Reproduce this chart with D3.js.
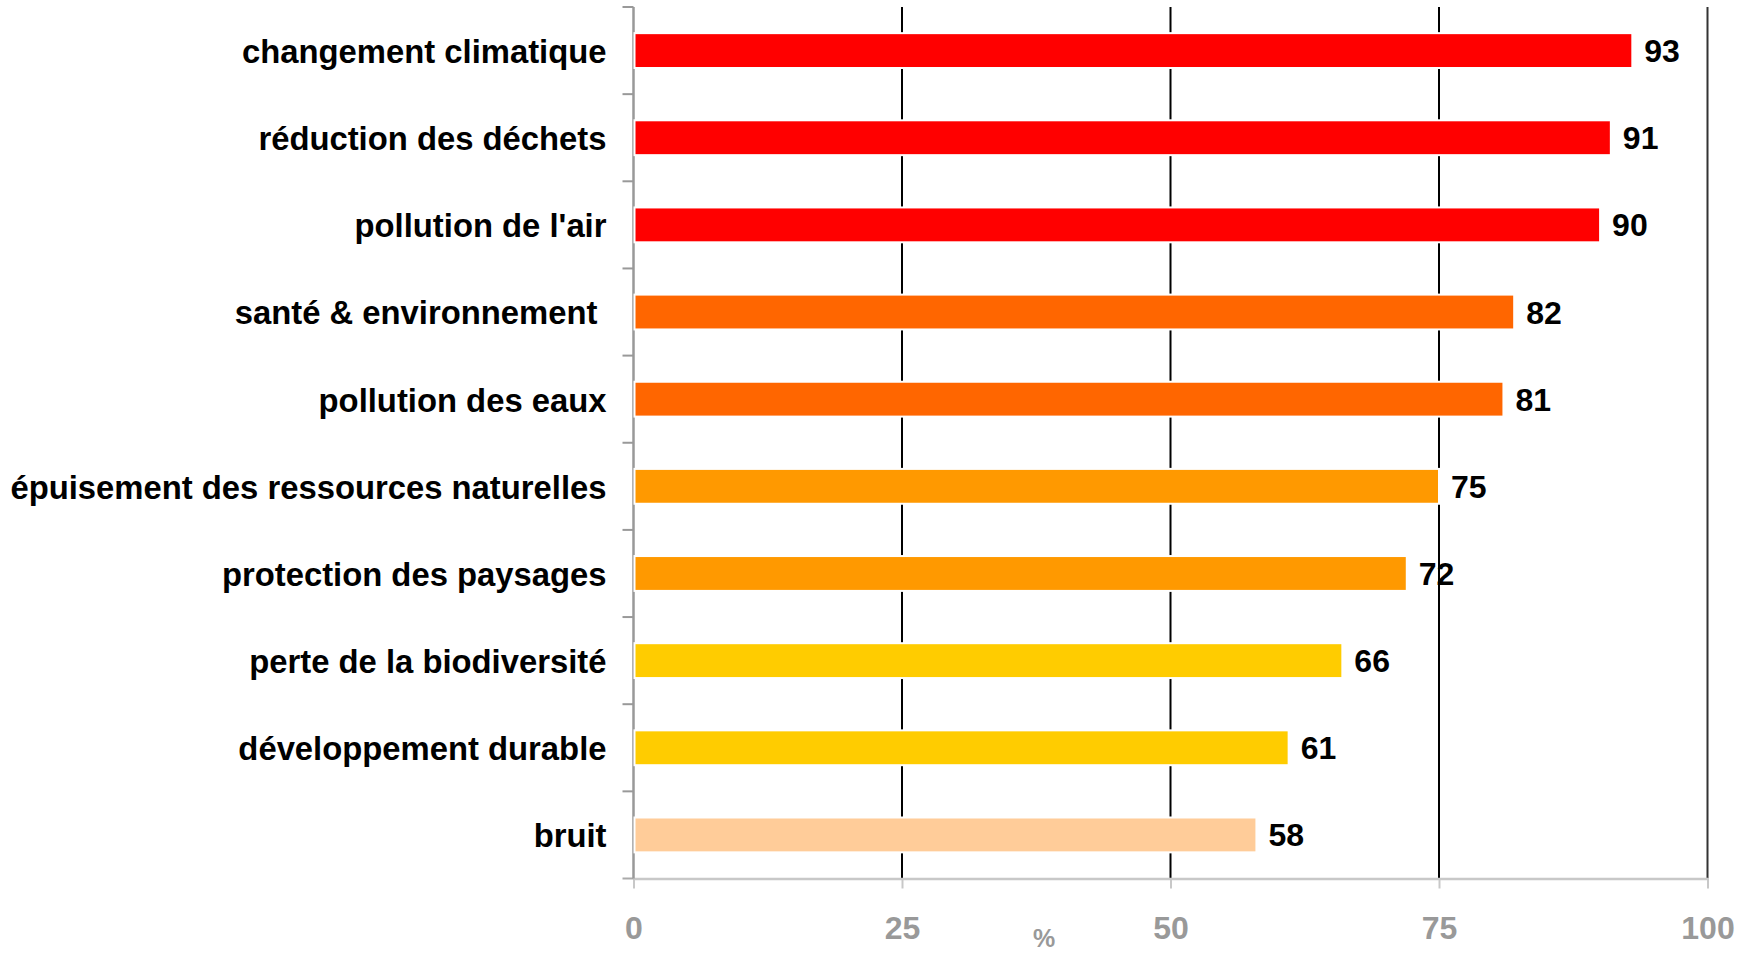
<!DOCTYPE html>
<html>
<head>
<meta charset="utf-8">
<script src="https://cdn.jsdelivr.net/npm/d3@7"></script>
<style>
  html, body { margin: 0; padding: 0; background: #fff; }
  svg { display: block; }
  text { font-family: "Liberation Sans", Arial, Helvetica, sans-serif; font-weight: bold; }
</style>
</head>
<body>
<svg id="chart" width="1742" height="953"></svg>
<script>
// ---- data ----
const categories = [
  "changement climatique",
  "réduction des déchets",
  "pollution de l'air",
  "santé & environnement ",
  "pollution des eaux",
  "épuisement des ressources naturelles",
  "protection des paysages",
  "perte de la biodiversité",
  "développement durable",
  "bruit"
];
const values = [93, 91, 90, 82, 81, 75, 72, 66, 61, 58];
const barColors = ["#ff0000", "#ff0000", "#ff0000", "#ff6600", "#ff6600",
                   "#ff9900", "#ff9900", "#ffcc00", "#ffcc00", "#ffcc99"];
const xTicks = [0, 25, 50, 75, 100];
const xTitle = "%";

// ---- layout ----
const svg = d3.select("#chart");
const plotLeft = 633.5, plotRight = 1707.5, plotTop = 7, plotBottom = 878.5;

const x = d3.scaleLinear().domain([0, 100]).range([plotLeft, plotRight]);
const y = d3.scaleBand().domain(categories).range([plotTop, plotBottom])
  .paddingInner(0.6).paddingOuter(0.3);

// gridlines
svg.append("g").selectAll("line")
  .data(xTicks.filter(d => d > 0))
  .join("line")
  .attr("x1", d => x(d)).attr("x2", d => x(d))
  .attr("y1", plotTop).attr("y2", plotBottom)
  .attr("stroke", d => d === 100 ? "#333" : "#000")
  .attr("stroke-width", 2);

// x axis
const xAxis = svg.append("g")
  .attr("transform", `translate(0,${plotBottom})`)
  .call(d3.axisBottom(x).tickValues(xTicks).tickSize(10).tickPadding(28).tickSizeOuter(0));
xAxis.select(".domain").attr("stroke", "#c8c8c8").attr("stroke-width", 2.5);
xAxis.selectAll(".tick line").attr("stroke", "#c8c8c8").attr("stroke-width", 2);
xAxis.selectAll(".tick text")
  .attr("fill", "#999").attr("font-size", 32).attr("font-weight", "bold")
  .attr("font-family", "Liberation Sans, Arial, sans-serif");

// extend x-axis line slightly left
svg.append("line")
  .attr("x1", plotLeft - 11).attr("x2", plotLeft)
  .attr("y1", plotBottom).attr("y2", plotBottom)
  .attr("stroke", "#aaa").attr("stroke-width", 2);

// y axis (band boundaries as ticks)
const yg = svg.append("g");
yg.append("line")
  .attr("x1", plotLeft).attr("x2", plotLeft)
  .attr("y1", plotTop).attr("y2", plotBottom)
  .attr("stroke", "#999").attr("stroke-width", 2.5);
const boundaries = categories.map(c => y(c) - y.step() * y.paddingInner() / 2);
yg.selectAll("line.tk")
  .data(boundaries)
  .join("line").attr("class", "tk")
  .attr("x1", plotLeft - 11).attr("x2", plotLeft)
  .attr("y1", d => d).attr("y2", d => d)
  .attr("stroke", "#999").attr("stroke-width", 2);

// bars
svg.append("g").selectAll("rect")
  .data(categories)
  .join("rect")
  .attr("x", x(0) + 1)
  .attr("y", d => y(d))
  .attr("width", (d, i) => x(values[i]) - x(0) - 1)
  .attr("height", y.bandwidth())
  .attr("fill", (d, i) => barColors[i])
  .attr("stroke", "#fff")
  .attr("stroke-width", 2);

// category labels
svg.append("g").selectAll("text")
  .data(categories)
  .join("text")
  .attr("x", plotLeft - 27)
  .attr("y", d => y(d) + y.bandwidth() / 2)
  .attr("dy", "0.38em")
  .attr("text-anchor", "end")
  .attr("font-size", 32.8)
  .attr("fill", "#000")
  .style("white-space", "pre")
  .text(d => d);

// value labels
svg.append("g").selectAll("text")
  .data(categories)
  .join("text")
  .attr("x", (d, i) => x(values[i]) + 12)
  .attr("y", d => y(d) + y.bandwidth() / 2)
  .attr("dy", "0.36em")
  .attr("font-size", 32)
  .attr("fill", "#000")
  .text((d, i) => values[i]);

// axis title
svg.append("text")
  .attr("x", 1044).attr("y", 947)
  .attr("text-anchor", "middle")
  .attr("font-size", 25)
  .attr("fill", "#999")
  .text(xTitle);
</script>
</body>
</html>
